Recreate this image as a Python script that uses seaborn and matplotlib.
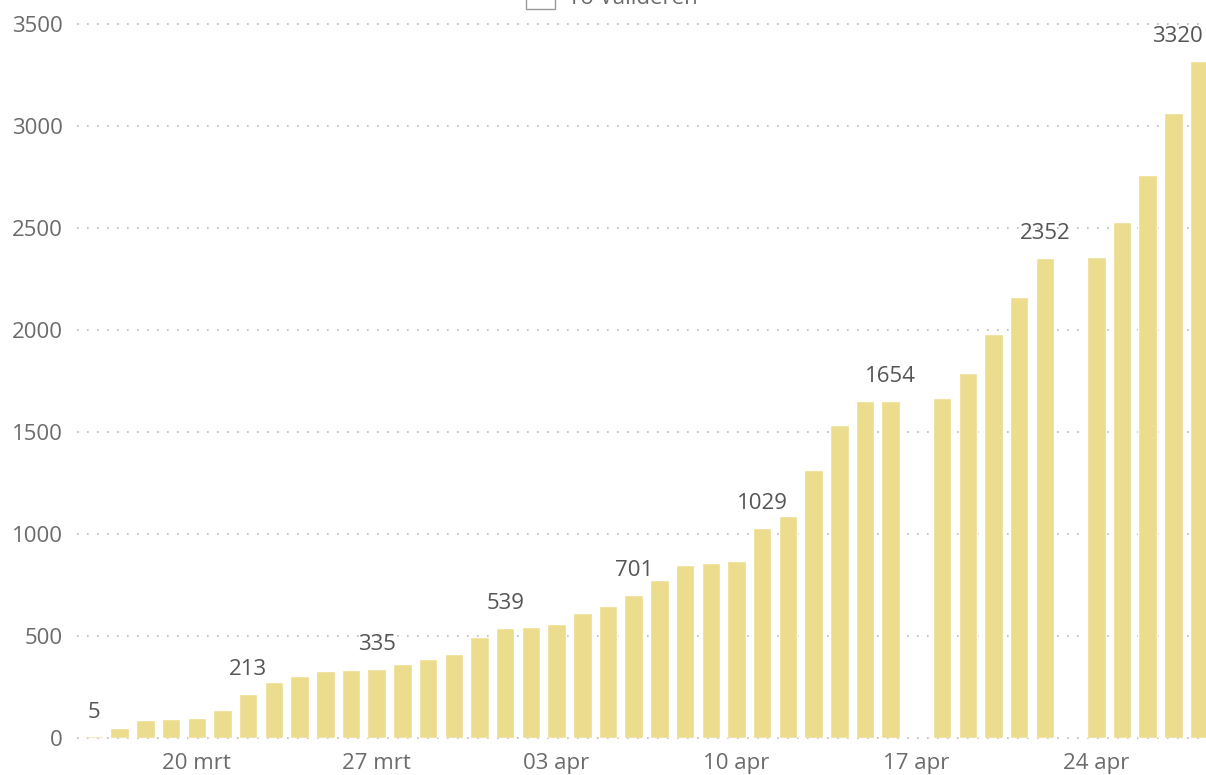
import matplotlib
matplotlib.use("Agg")
import matplotlib.pyplot as plt
import seaborn as sns
import numpy as np
import pandas as pd
from matplotlib.patches import Patch

# ---- data ----
days = ["16 mrt", "17 mrt", "18 mrt", "19 mrt", "20 mrt", "21 mrt", "22 mrt", "23 mrt",
        "24 mrt", "25 mrt", "26 mrt", "27 mrt", "28 mrt", "29 mrt", "30 mrt", "31 mrt",
        "01 apr", "02 apr", "03 apr", "04 apr", "05 apr", "06 apr", "07 apr", "08 apr",
        "09 apr", "10 apr", "11 apr", "12 apr", "13 apr", "14 apr", "15 apr", "16 apr",
        "17 apr", "18 apr", "19 apr", "20 apr", "21 apr", "22 apr", "23 apr", "24 apr",
        "25 apr", "26 apr", "27 apr", "28 apr"]
values = [5, 45, 86, 89, 96, 135, 213, 274, 302, 328, 329, 335, 361, 385, 410, 495,
          539, 543, 557, 610, 646, 701, 773, 847, 855, 866, 1029, 1089, 1313, 1534, 1652, 1654,
          np.nan, 1668, 1791, 1981, 2161, 2352, np.nan, 2360, 2532, 2761, 3067, 3320]
labeled_days = ["16 mrt", "22 mrt", "27 mrt", "01 apr", "06 apr", "11 apr", "16 apr", "22 apr", "28 apr"]
tick_days = ["20 mrt", "27 mrt", "03 apr", "10 apr", "17 apr", "24 apr"]
y_ticks = [0, 500, 1000, 1500, 2000, 2500, 3000, 3500]
legend_label = "To Valideren"

df = pd.DataFrame({"dag": days, "waarde": values})

sns.set_theme(style="white")
plt.rcParams['font.family'] = ['Open Sans', 'DejaVu Sans']

fig = plt.figure(figsize=(12.06, 7.75), dpi=100)
ax = fig.add_axes([77 / 1206, 37.5 / 775, 1 - 77 / 1206, 713 / 775])

bar_color = "#ecdc8e"
sns.barplot(data=df, x="dag", y="waarde", order=days, color=bar_color,
            width=0.72, saturation=1, ax=ax, errorbar=None)

ax.set_xlim(-0.66, 43.27)
ax.set_ylim(0, 3500)
ax.set_yticks(y_ticks)
ax.set_yticklabels([str(v) for v in y_ticks])
pos = {d: i for i, d in enumerate(days)}
ax.set_xticks([pos[d] for d in tick_days])
ax.set_xticklabels(tick_days)
ax.set_xlabel("")
ax.set_ylabel("")
for s in ax.spines.values():
    s.set_visible(False)
ax.tick_params(axis="both", length=0, labelsize=16, colors="#6b6b6b")
ax.tick_params(axis="y", pad=10)
ax.tick_params(axis="x", pad=11)

for yv in y_ticks:
    ax.axhline(yv, color="#b8b8b8", linewidth=1.2, linestyle=(0, (1, 5)), zorder=0, clip_on=False)
ax.set_axisbelow(True)

for d in labeled_days:
    i = pos[d]
    v = values[i]
    if i == len(days) - 1:
        ax.annotate(f"{v:.0f}", xy=(i, v), xytext=(3, 10), textcoords="offset points",
                    ha="right", va="bottom", fontsize=16, color="#555555", annotation_clip=False)
    else:
        ax.annotate(f"{v:.0f}", xy=(i, v), xytext=(0, 10), textcoords="offset points",
                    ha="center", va="bottom", fontsize=16, color="#555555")

fig.legend(handles=[Patch(facecolor="white", edgecolor="#9a9a9a")], labels=[legend_label],
           loc="center", bbox_to_anchor=(612 / 1206, 1 + 3 / 775), frameon=False,
           fontsize=16, labelcolor="#6b6b6b", handlelength=1.3, handleheight=1.3,
           handletextpad=0.6)

fig.savefig("out.png", dpi=100)
